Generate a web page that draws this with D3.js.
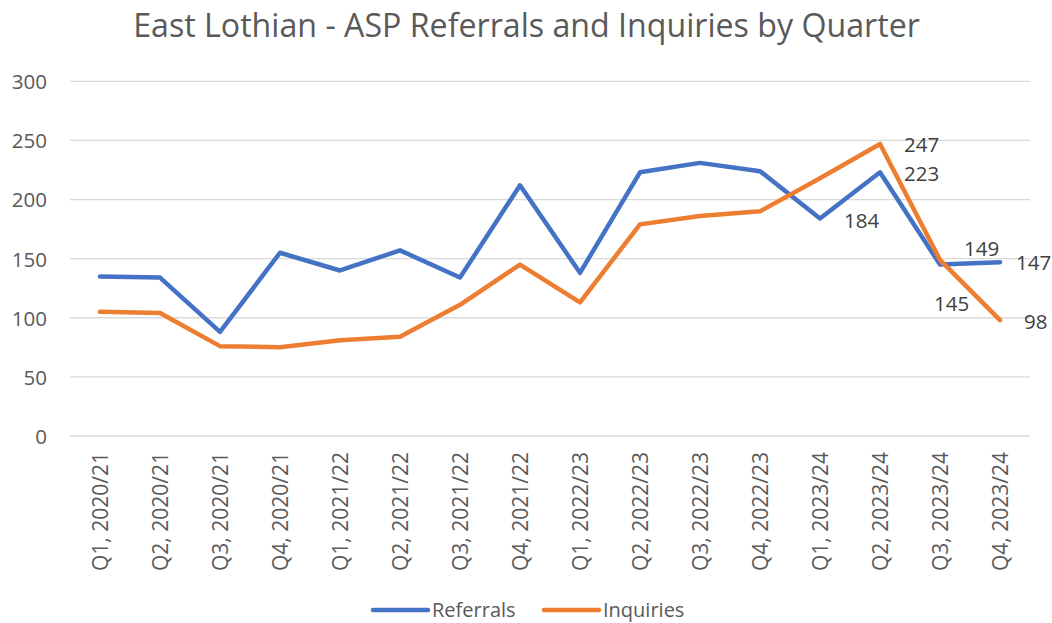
<!DOCTYPE html>
<html>
<head>
<meta charset="utf-8">
<script src="https://cdn.jsdelivr.net/npm/d3@7"></script>
<style>
  html, body { margin: 0; padding: 0; background: #fff; }
  svg { display: block; font-family: "Open Sans", "Noto Sans", sans-serif; }
</style>
</head>
<body>
<svg id="chart" width="1052" height="623"></svg>
<script>
const title = "East Lothian - ASP Referrals and Inquiries by Quarter";
const categories = ["Q1, 2020/21","Q2, 2020/21","Q3, 2020/21","Q4, 2020/21",
  "Q1, 2021/22","Q2, 2021/22","Q3, 2021/22","Q4, 2021/22",
  "Q1, 2022/23","Q2, 2022/23","Q3, 2022/23","Q4, 2022/23",
  "Q1, 2023/24","Q2, 2023/24","Q3, 2023/24","Q4, 2023/24"];
const referrals = [135,134,88,155,140,157,134,212,138,223,231,224,184,223,145,147];
const inquiries = [105,104,76,75,81,84,111,145,113,179,186,190,218,247,149,98];
const yTicks = [0,50,100,150,200,250,300];
const seriesNames = ["Referrals","Inquiries"];
const seriesColors = ["#4472C4","#ED7D31"];
// data labels shown: [series index, point index]
const labelPoints = [[0,12],[0,13],[1,13],[0,14],[1,14],[0,15],[1,15]];

const svg = d3.select("#chart");
const plot = {left: 70, right: 1030, top: 81.3, bottom: 436};

const x = d3.scalePoint().domain(categories).range([plot.left, plot.right]).padding(0.5);
const y = d3.scaleLinear().domain([0, 300]).range([plot.bottom, plot.top]);

// gridlines
svg.append("g").selectAll("line").data(yTicks).join("line")
  .attr("x1", plot.left).attr("x2", plot.right)
  .attr("y1", d => y(d)).attr("y2", d => y(d))
  .attr("stroke", "#D9D9D9").attr("stroke-width", 1.3);

// y axis labels
const yAxis = d3.axisLeft(y).tickValues(yTicks).tickSize(0).tickPadding(0);
const yg = svg.append("g").attr("transform", `translate(47,0)`).call(yAxis);
yg.select(".domain").remove();
yg.selectAll("text").attr("font-size", "20.5px").attr("fill", "#595959")
  .attr("font-family", "Open Sans").attr("dy", "0.36em");

// x axis labels
const xAxis = d3.axisBottom(x).tickSize(0).tickPadding(0);
const xg = svg.append("g").attr("transform", `translate(0,${plot.bottom})`).call(xAxis);
xg.select(".domain").remove();
xg.selectAll("text")
  .attr("font-size", "21px").attr("fill", "#595959").attr("font-family", "Open Sans")
  .attr("text-anchor", "end").attr("dy", null).attr("y", null)
  .attr("transform", "translate(7.5,16) rotate(-90)");

// lines
const seriesData = [referrals, inquiries];
const line = d3.line().x((d, i) => x(categories[i])).y(d => y(d));
svg.append("g").selectAll("path").data(seriesData).join("path")
  .attr("d", line)
  .attr("fill", "none")
  .attr("stroke", (d, i) => seriesColors[i])
  .attr("stroke-width", 4.5)
  .attr("stroke-linejoin", "round")
  .attr("stroke-linecap", "round");

// data labels
const labelOffsets = [[24,2],[24,1],[24,1],[-6,39],[24,-11],[16,0],[24,1]];
svg.append("g").selectAll("text").data(labelPoints).join("text")
  .attr("x", (d, k) => x(categories[d[1]]) + labelOffsets[k][0])
  .attr("y", (d, k) => y(seriesData[d[0]][d[1]]) + labelOffsets[k][1])
  .attr("dy", "0.36em")
  .attr("font-size", "20.5px").attr("fill", "#404040")
  .text(d => seriesData[d[0]][d[1]]);

// title
const t = svg.append("text").attr("x", 526.5).attr("y", 37)
  .attr("text-anchor", "middle").attr("fill", "#595959")
  .attr("font-size", "28px").text(title);
const tw = t.node().getComputedTextLength();
t.attr("font-size", (28 * 787 / tw) + "px");

// legend
const legendX = [373, 544];
const lg = svg.append("g").selectAll("g").data(seriesNames).join("g")
  .attr("transform", (d, i) => `translate(${legendX[i]},610)`);
lg.append("line").attr("x1", 0).attr("x2", 55).attr("y1", 0).attr("y2", 0)
  .attr("stroke", (d, i) => seriesColors[i]).attr("stroke-width", 4.5)
  .attr("stroke-linecap", "round");
lg.append("text").attr("x", 59).attr("y", 0).attr("dy", "0.34em")
  .attr("font-size", "20px").attr("fill", "#595959").text(d => d);
</script>
</body>
</html>
